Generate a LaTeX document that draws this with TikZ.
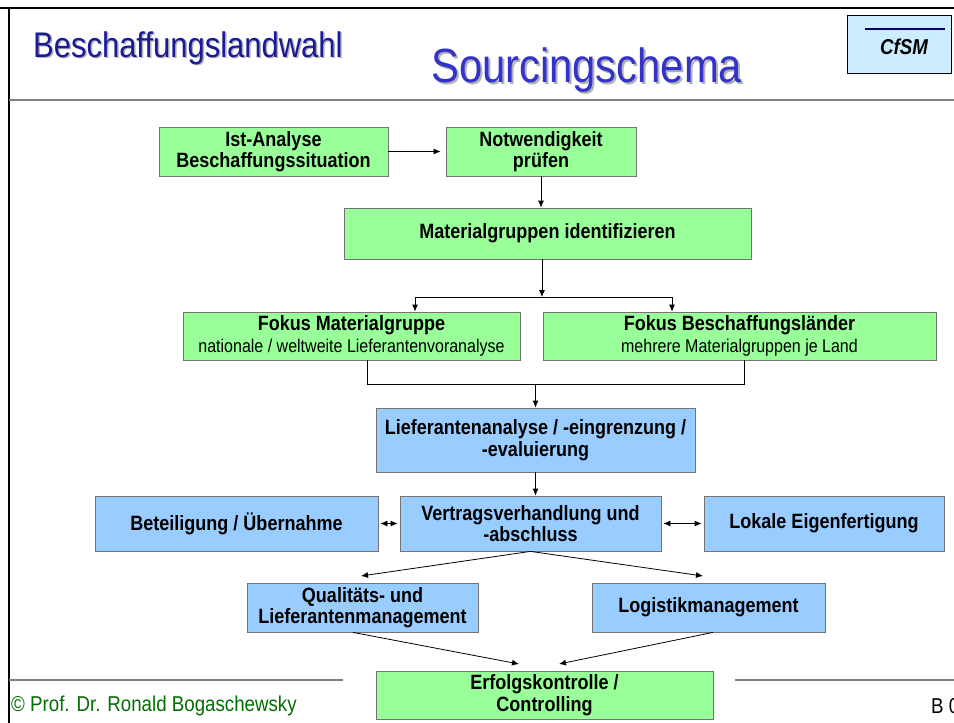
\documentclass[tikz,border=0pt]{standalone}
\usepackage{fontspec}
\setmainfont[FakeStretch=0.87]{Liberation Sans}
\usetikzlibrary{arrows.meta,shadows}
\definecolor{boxgreen}{RGB}{153,255,153}
\definecolor{boxblue}{RGB}{153,204,255}
\definecolor{titleblue}{RGB}{26,26,153}
\definecolor{schemablue}{RGB}{51,51,204}
\definecolor{cfsmfill}{RGB}{204,236,255}
\definecolor{cfsmline}{RGB}{0,0,102}
\definecolor{footgreen}{RGB}{0,110,0}
\begin{document}
\begin{tikzpicture}[x=1pt,y=-1pt,
  box/.style={draw=black!55, line width=0.8pt, inner sep=2pt, align=center,
    font=\fontsize{20.7}{21.5}\selectfont\bfseries,
    drop shadow={shadow xshift=1.2pt, shadow yshift=-1.2pt, fill=black!65, opacity=1}},
  gbox/.style={box, fill=boxgreen},
  bbox/.style={box, fill=boxblue},
  conn/.style={line width=0.8pt, -{Latex[length=7pt,width=6pt]}},
  dconn/.style={line width=0.8pt, {Latex[length=7pt,width=6pt]}-{Latex[length=7pt,width=6pt]}}
]
\useasboundingbox (0,0) rectangle (954,723);
\fill[white] (0,0) rectangle (954,723);
% frame
\draw[line width=2pt] (0,8) -- (954,8);
\draw[line width=2pt] (9,8) -- (9,723);
\draw[line width=1.6pt, black!50] (9,100) -- (954,100);
\draw[line width=1.2pt, black!50] (9,680) -- (343,680);
\draw[line width=1.2pt, black!50] (735,680) -- (954,680);
% titles
\node[anchor=west, inner sep=0, font=\fontsize{35.6}{40}\selectfont, text=black!30] at (34.5,49.5) {Beschaffungslandwahl};
\node[anchor=west, inner sep=0, font=\fontsize{35.6}{40}\selectfont, text=titleblue] (t1) at (33,48) {Beschaffungslandwahl};
\node[anchor=west, inner sep=0, font=\fontsize{48}{54}\selectfont, text=black!30] at (433,72) {Sourcingschema};
\node[anchor=west, inner sep=0, font=\fontsize{48}{54}\selectfont, text=schemablue] (t2) at (431,70) {Sourcingschema};
% CfSM
\node[draw=black, fill=cfsmfill, line width=0.8pt, minimum width=104pt, minimum height=58pt, inner sep=0] (cfsm) at (899,44) {};
\draw[line width=2pt, cfsmline] (865,29) -- (945,29);
\node[font=\fontsize{21.5}{24}\selectfont\bfseries\itshape] (cfsmtxt) at (904,47) {CfSM};
% boxes
\node[gbox, minimum width=229pt, minimum height=49pt] (ist) at (273.5,151.5) {Ist-Analyse\\Beschaffungssituation};
\node[gbox, minimum width=190pt, minimum height=49pt] (notw) at (541,151.5) {Notwendigkeit\\prüfen};
\node[gbox, minimum width=407pt, minimum height=51pt] (mat) at (547.5,233.5) {Materialgruppen identifizieren};
\node[gbox, minimum width=337pt, minimum height=48pt] (fm) at (351.5,336) {Fokus Materialgruppe\\{\fontsize{18.4}{19}\selectfont\mdseries nationale / weltweite Lieferantenvoranalyse}};
\node[gbox, minimum width=393pt, minimum height=48pt] (fb) at (739.5,336) {Fokus Beschaffungsländer\\{\fontsize{18.4}{19}\selectfont\mdseries mehrere Materialgruppen je Land}};
\node[bbox, minimum width=319pt, minimum height=64pt] (lief) at (535.5,440) {Lieferantenanalyse / -eingrenzung /\\-evaluierung};
\node[bbox, minimum width=283pt, minimum height=55pt] (bet) at (236.5,523.5) {Beteiligung / Übernahme};
\node[bbox, minimum width=261pt, minimum height=55pt] (vert) at (530.5,523.5) {Vertragsverhandlung und\\-abschluss};
\node[bbox, minimum width=240pt, minimum height=55pt] (lok) at (824,523.5) {Lokale Eigenfertigung};
\node[bbox, minimum width=231pt, minimum height=49pt] (qual) at (362.5,607.5) {Qualitäts- und\\Lieferantenmanagement};
\node[bbox, minimum width=233pt, minimum height=49pt] (log) at (708.5,607.5) {Logistikmanagement};
\node[gbox, minimum width=337pt, minimum height=48pt] (erf) at (544.5,695) {Erfolgskontrolle /\\Controlling};
% footer
\node[anchor=west, inner sep=0, text=footgreen, font=\fontsize{21.5}{24}\selectfont] (foot) at (11,706) {© Prof. Dr. Ronald Bogaschewsky};
\node[anchor=west, inner sep=0, text=black, font=\fontsize{21.5}{24}\selectfont] (page) at (931,706) {B 0};
% connectors
\draw[conn, shorten >=5pt] (ist.east) -- (notw.west);
\draw[conn] (notw.south) -- (notw.south |- mat.north);
\coordinate (split) at (542,297);
\coordinate (sl) at (415,297);
\coordinate (sr) at (672,297);
\draw[conn] (mat.south -| split) -- (split);
\draw[line width=0.8pt] (sl) -- (sr);
\draw[conn] (sl) -- (sl |- fm.north);
\draw[conn] (sr) -- (sr |- fb.north);
\coordinate (bl) at (367,384);
\coordinate (br) at (744,384);
\draw[line width=0.8pt] (bl |- fm.south) -- (bl) -- (br) -- (br |- fb.south);
\draw[conn] (lief.north |- bl) -- (lief.north);
\draw[conn] (lief.south) -- (lief.south |- vert.north);
\draw[dconn, shorten <=2pt, shorten >=2pt] (bet.east) -- (vert.west);
\draw[dconn, shorten <=2pt, shorten >=2pt] (vert.east) -- (lok.west);
\coordinate (ql) at (361,576);
\coordinate (lr) at (703,576);
\draw[conn] (vert.south) -- (ql);
\draw[conn] (vert.south) -- (lr);
\coordinate (e1) at (519,664);
\coordinate (e2) at (559,664);
\draw[conn] ([xshift=-9.5pt]qual.south) -- (e1);
\draw[conn] ([xshift=4.5pt]log.south) -- (e2);
\end{tikzpicture}
\end{document}
